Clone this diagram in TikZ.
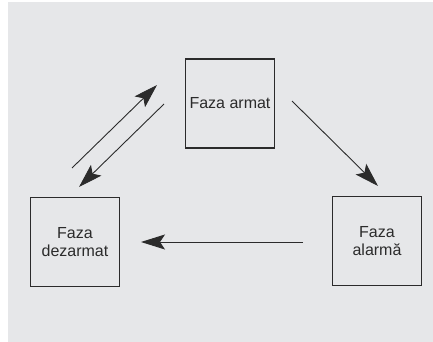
\documentclass[tikz,border=0pt]{standalone}
\usepackage{fontspec}
\setmainfont{Liberation Sans}
\usetikzlibrary{arrows.meta}
\definecolor{bg}{HTML}{E6E7E9}
\definecolor{ink}{HTML}{2B2B2B}
\begin{document}
\begin{tikzpicture}[x=1pt,y=-1pt,
  statebox/.style={draw=ink,line width=1.3pt,minimum width=89pt,minimum height=89pt,inner sep=0pt,
    align=center,font=\fontsize{16}{18.5}\selectfont,text=ink},
  conn/.style={draw=ink,line width=0.9pt,-{Stealth[length=24pt,width=15pt,inset=5pt]}}]
\useasboundingbox (0,0) rectangle (433,342);
\fill[white] (0,0) rectangle (433,342);
\fill[bg] (8,2) rectangle (433,342);
\node[statebox] (arm) at (230,103.5) {Faza armat};
\node[statebox] (dez) at (75,242) {Faza\\dezarmat};
\node[statebox] (ala) at (377,241) {Faza\\alarmă};
\coordinate (u1) at (72,168);
\coordinate (u2) at (157,85);
\coordinate (d1) at (164,104);
\coordinate (d2) at (79,187);
\coordinate (r1) at (292,101);
\coordinate (r2) at (378,186);
\coordinate (h1) at (303,242);
\coordinate (h2) at (141,242);
\draw[conn] (u1) -- (u2);
\draw[conn] (d1) -- (d2);
\draw[conn] (r1) -- (r2);
\draw[conn] (h1) -- (h2);
\end{tikzpicture}
\end{document}
